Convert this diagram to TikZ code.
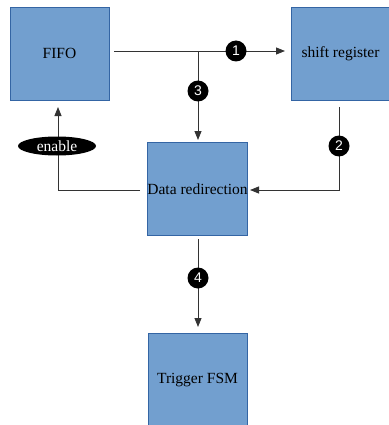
\documentclass[tikz,border=0pt]{standalone}
\usepackage{fontspec}
\setmainfont{Liberation Serif}
\newfontfamily\numfont{Liberation Sans}
\usetikzlibrary{shapes.geometric,arrows.meta}
\definecolor{boxfill}{HTML}{729FCF}
\definecolor{boxline}{HTML}{3465A4}
\tikzset{
  blk/.style={draw=boxline, fill=boxfill, line width=0.8pt, minimum width=99pt, minimum height=93pt, inner sep=0pt, font=\fontsize{15.5}{18}\selectfont},
  num/.style={circle, fill=black, text=white, minimum size=21pt, inner sep=0pt, font=\numfont\fontsize{14}{16}\selectfont},
  conn/.style={draw=black!80, line width=0.9pt, -{Triangle[length=9pt,width=7pt]}},
  lbl/.style={ellipse, fill=black, text=white, minimum width=78pt, minimum height=19pt, inner sep=0pt, font=\fontsize{15.5}{18}\selectfont}
}
\begin{document}
\begin{tikzpicture}[x=1pt,y=-1pt]
\useasboundingbox (0,0) rectangle (388,425);
\node[blk] (fifo) at (59.5,53.5) {FIFO};
\node[blk] (sr) at (340.5,53.5) {shift register};
\node[blk] (dr) at (197.5,189) {Data redirection};
\node[blk] (fsm) at (197.5,380) {Trigger FSM};
\coordinate (a0) at (114,51);
\coordinate (a1) at (285,51);
\coordinate (j) at (198,51);
\coordinate (b1) at (198,140);
\coordinate (c0) at (339,107);
\coordinate (c1) at (339,190);
\coordinate (c2) at (250,190);
\coordinate (d0) at (140,190);
\coordinate (d1) at (58,190);
\coordinate (d2) at (58,107);
\coordinate (e0) at (198,239);
\coordinate (e1) at (198,327);
\draw[conn] (a0) -- (a1);
\draw[conn] (j) -- (b1);
\draw[conn] (c0) -- (c1) -- (c2);
\draw[conn] (d0) -- (d1) -- (d2);
\draw[conn] (e0) -- (e1);
\node[num] (n1) at (236,51) {1};
\node[num] (n3) at (198,91) {3};
\node[num] (n2) at (339,146) {2};
\node[num] (n4) at (198,278) {4};
\node[lbl] (en) at (57,146) {enable};
\end{tikzpicture}
\end{document}
